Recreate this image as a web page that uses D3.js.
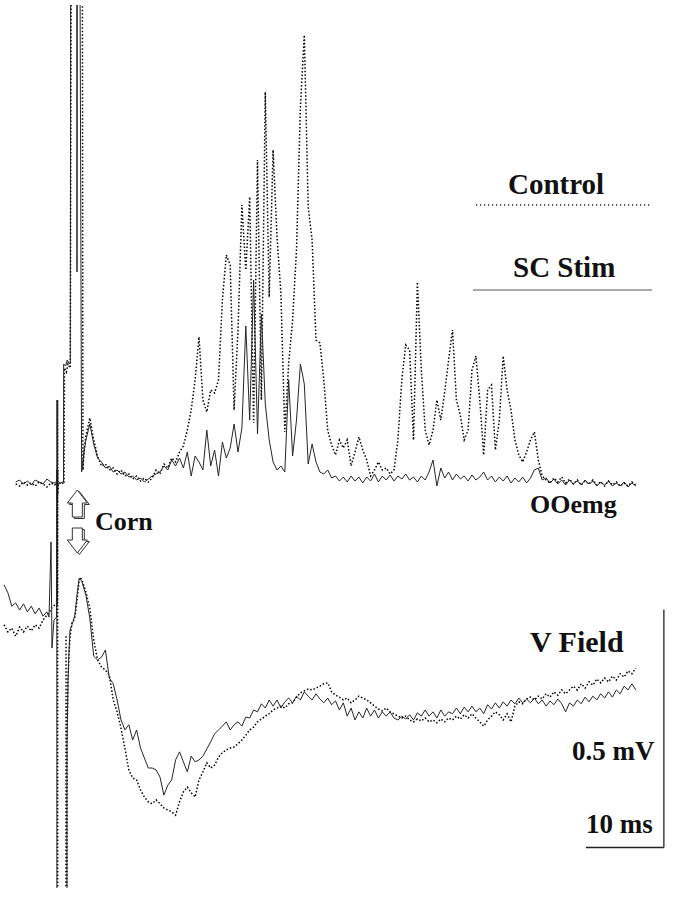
<!DOCTYPE html>
<html>
<head>
<meta charset="utf-8">
<script src="https://cdn.jsdelivr.net/npm/d3@7/dist/d3.min.js"></script>
<style>
body{margin:0;background:#fff;}
svg{display:block;background:#fff;}
.label{font-family:"Liberation Serif","Times New Roman",serif;font-weight:bold;fill:#111;}
</style>
</head>
<body>
<svg id="fig"></svg>
<script>
//////////////////////////////////////////////////////////////
// data: all traces sampled every 0.5 ms
var dt = 0.5;
var fieldStart = 0;     // V field sweep starts at 0 ms
var emgStart = 1.5;     // OOemg sweep starts at 1.5 ms
var seriesNames = ["Control","SC Stim"];
var traceNames = ["OOemg","V Field"];
var stimName = "Corn";
var cornTime = 9.4;     // corneal stimulus (ms)
var scaleBarTime = 10;  // ms
var scaleBarVolt = 500; // uV
var scaleBarLabels = ["0.5 mV","10 ms"];

// OOemg, rectified (a.u.), SC Stim (solid)
var emgStim = [
 1,2,0,1.5,-0.5,2,1,0,2.5,1,0.5,
 null,null,null,null,null,null,null,
 22,30,20,13,11,8,9,6,7,5,
 6,3.5,4,2,3,1,2.5,4,5,6,
 9,7,12,9,13,8,16,4,14,11,
 7,27,9,17,4,21,13,18,30,16,
 28,79,32,102,25,85,40,22,11,7,
 9,6,52,14,32,60,50,10,20,11,
 6,5,7,3,4,1.5,3.5,1,4,1.5,
 3.5,0.5,3.5,1.5,5,1,4,2,4.5,1.5,
 4,2.5,5,2,3.5,1,4,2,6,12,
 -1,8,3,6,2,5,2.5,4,1.5,4.5,
 2,3.5,6,2,4,1,3.5,1.5,4,0.5,
 3,1,3.5,0.5,3,7,8,2,3,0.5,
 2.5,0,2,-0.5,2,0,1.5,-0.5,2,0,
 1.5,-1,1,-0.5,1.5,-1,0.5,-1,1,-1.5,
 0.5,-1
];
// OOemg, Control (dotted)
var emgControl = [
 0,-1,1,-0.5,0.5,-1,1,0,-1.5,0.5,-0.5,
 null,null,null,null,null,null,null,
 24,33,22,14,9,10,7,8,5,7,
 4,5,2.5,4,1.5,3,1,3,7,5,
 10,8,13,11,16,19,27,37,52,73.5,
 42,36,47,45.5,52,92,114.5,109.5,37,77,
 139.5,107,143.5,30.5,162,42,196,93.5,167,123.5,
 95.5,26,60.5,82,117,188.5,224.5,138.5,122,72,
 70.5,52,27,19.5,14.5,22,18,22,9,16,
 23.5,17,12,4,7,11,7,8,5,7,
 22,52,69.5,67,22,101,57,27,19.5,27,
 42,32,46,62,77,42,34.5,22,27,57,
 64,42,14.5,47,49.5,17,32,64,47,37,
 22,14.5,11,16,22,26,12,4,2,0.5,
 3,1,3.5,0.5,2.5,0,2,-0.5,1.5,0,
 2,-0.5,1,-1,1.5,-0.5,1,-1,0.5,-1,
 1,-0.5
];
// stimulus artifacts [ms, value]
var emgStimArtifact = [[6.6,1],[6.79,1],[6.8,42],[6.82,-8],[6.85,1],[7.1,0],[7.5,1],[7.63,1],
 [7.65,60],[7.9,59],[8.1,62],[8.4,60],[8.5,61],[8.55,250],[9.33,250],[9.36,106],[9.4,250],
 [9.75,250],[9.95,6],[10.2,14]];
var emgControlArtifact = [[6.6,0],[6.84,0],[6.87,42],[6.9,-5],[6.95,0],[7.3,1],[7.7,0],
 [7.75,58],[8.0,56],[8.2,60],[8.5,58],[8.6,250],[10.05,250],[10.12,7],[10.3,18]];

// V Field (uV), SC Stim (solid)
var fieldStim = [
 32,15,-13,-6,-21,-8,-25,-13,-29,-17,-34,-25,
 null,null,null,null,null,null,null,null,
 38,10,-38,-118,-126,-120,-105,-164,-176,-210,
 -252,-273,-262,-294,-273,-311,-332,-353,-353,-357,
 -372,-410,-389,-378,-336,-319,-340,-361,-328,-340,
 -336,-328,-313,-298,-281,-273,-265,-256,-273,-262,
 -256,-265,-246,-248,-231,-235,-218,-227,-210,-223,
 -210,-227,-214,-206,-216,-202,-210,-193,-202,-210,
 -197,-208,-216,-206,-220,-212,-231,-216,-244,-227,
 -252,-235,-248,-227,-244,-231,-248,-235,-244,-235,
 -248,-252,-244,-250,-241,-252,-237,-244,-231,-244,
 -235,-248,-231,-244,-235,-239,-227,-239,-225,-235,
 -223,-235,-227,-239,-220,-229,-216,-227,-214,-223,
 -210,-218,-206,-216,-208,-216,-206,-218,-210,-223,
 -212,-220,-208,-218,-235,-216,-223,-210,-218,-204,
 -214,-202,-210,-197,-206,-193,-204,-189,-197,-181,
 -189,-176,-189
];
// V Field, Control (dotted)
var fieldControl = [
 -52,-67,-59,-76,-57,-67,-55,-65,-52,-59,-42,-32,
 null,null,null,null,null,null,null,null,
 42,17,-17,-84,-126,-141,-147,-158,-210,-235,
 -269,-311,-357,-374,-378,-399,-414,-424,-428,-420,
 -428,-437,-441,-445,-452,-424,-403,-393,-405,-414,
 -378,-361,-342,-353,-347,-330,-321,-315,-311,-309,
 -302,-294,-284,-273,-267,-256,-250,-244,-239,-231,
 -227,-223,-227,-218,-216,-204,-195,-191,-187,-189,
 -185,-181,-176,-174,-193,-200,-204,-210,-206,-216,
 -210,-202,-206,-210,-216,-223,-229,-233,-227,-235,
 -239,-244,-248,-244,-252,-256,-250,-254,-248,-256,
 -252,-258,-250,-256,-248,-252,-244,-250,-241,-248,
 -239,-248,-256,-265,-252,-244,-235,-241,-252,-239,
 -256,-223,-214,-218,-208,-204,-210,-202,-208,-197,
 -204,-193,-200,-189,-197,-189,-181,-189,-176,-185,
 -172,-179,-166,-174,-164,-172,-160,-168,-155,-162,
 -149,-155,-143
];
var fieldStimArtifact = [[5.77,-36],[6.03,122],[6.15,-101],[6.41,-42],[6.73,-36],[6.77,273],
 [6.8,-3000],[8.0,-3000],[8.08,-300],[8.21,-170],[8.33,-110],[8.46,-63],[8.72,-52],[8.85,-46],
 [9.1,-30],[9.36,10],[9.62,44],[9.74,46]];
var fieldControlArtifact = [[5.77,-27],[6.15,-15],[6.54,-10],[6.84,-8],[6.87,273],[6.91,-3000],
 [7.92,-3000],[7.95,-74],[7.99,-3000],[8.05,-3000],[8.08,-290],[8.21,-162],[8.33,-115],
 [8.46,-78],[8.72,-48],[8.85,-46],[9.1,-36],[9.36,0],[9.62,40],[9.74,48]];
//////////////////////////////////////////////////////////////

//merge the regular samples with the artifact points
var buildTrace = function(start,values,artifact)
{
    var pts = [];
    values.forEach(function(v,k){
        if(v!==null) pts.push({t:start+k*dt, v:v});
    });
    artifact.forEach(function(p){
        pts.push({t:p[0], v:p[1]});
    });
    pts.sort(function(a,b){return a.t-b.t;});
    return pts;
}

var initFigure = function(target)
{
    var screen = {width:675, height:899};

    var svg = d3.select(target)
        .attr("width",screen.width)
        .attr("height",screen.height)

    //10 ms = 78 px, 0.5 mV = 238 px
    var xScale = d3.scaleLinear()
        .domain([0,81])
        .range([4,635.8])
    var emgScale = d3.scaleLinear()
        .domain([0,240])
        .range([484,4])
    var fieldScale = d3.scaleLinear()
        .domain([0,-500])
        .range([600,838])

    svg.append("defs")
        .append("clipPath")
        .attr("id","clip")
        .append("rect")
        .attr("x",0)
        .attr("y",5)
        .attr("width",screen.width)
        .attr("height",883)

    var traces = [
        {pts:buildTrace(emgStart,emgControl,emgControlArtifact), y:emgScale, dotted:true},
        {pts:buildTrace(emgStart,emgStim,emgStimArtifact), y:emgScale, dotted:false},
        {pts:buildTrace(fieldStart,fieldControl,fieldControlArtifact), y:fieldScale, dotted:true},
        {pts:buildTrace(fieldStart,fieldStim,fieldStimArtifact), y:fieldScale, dotted:false}
    ];

    var g = svg.append("g")
        .attr("clip-path","url(#clip)")

    traces.forEach(function(tr)
    {
        var line = d3.line()
            .x(function(p){return xScale(p.t);})
            .y(function(p){return tr.y(p.v);})
        g.append("path")
            .datum(tr.pts)
            .attr("d",line)
            .attr("fill","none")
            .attr("stroke",tr.dotted ? "#000" : "#262626")
            .attr("stroke-width",tr.dotted ? 1.5 : 1)
            .attr("stroke-dasharray",tr.dotted ? "1.5,2" : null)
    })

    //legend
    var legend = svg.append("g")
    legend.append("text")
        .classed("label",true)
        .attr("x",508).attr("y",194)
        .style("font-size","29px")
        .text(seriesNames[0])
    legend.append("line")
        .attr("x1",476).attr("x2",652)
        .attr("y1",205).attr("y2",205)
        .attr("stroke","#222")
        .attr("stroke-width",1.3)
        .attr("stroke-dasharray","1.2,2.8")
    legend.append("text")
        .classed("label",true)
        .attr("x",513).attr("y",277)
        .style("font-size","29px")
        .text(seriesNames[1])
    legend.append("line")
        .attr("x1",473).attr("x2",652)
        .attr("y1",290).attr("y2",290)
        .attr("stroke","#555")
        .attr("stroke-width",1.2)

    //trace names
    svg.append("text")
        .classed("label",true)
        .attr("x",530).attr("y",513)
        .style("font-size","26px")
        .text(traceNames[0])
    svg.append("text")
        .classed("label",true)
        .attr("x",530).attr("y",652)
        .style("font-size","30px")
        .text(traceNames[1])

    //corneal stimulus arrows
    var cx = xScale(cornTime);
    var upArrow = [[0,490],[10,503],[5,503],[5,517],[-5,517],[-5,503],[-10,503]];
    var downArrow = [[-5,528],[5,528],[5,540],[10,540],[0,553],[-10,540],[-5,540]];
    [upArrow,downArrow].forEach(function(shape)
    {
        var d = "M" + shape.map(function(p){return (cx+p[0])+","+p[1];}).join("L") + "Z";
        svg.append("path")
            .attr("d",d)
            .attr("transform","translate(2,1.5)")
            .attr("fill","#fff")
            .attr("stroke","#333")
            .attr("stroke-width",1)
        svg.append("path")
            .attr("d",d)
            .attr("fill","#fff")
            .attr("stroke","#333")
            .attr("stroke-width",1)
    })
    svg.append("text")
        .classed("label",true)
        .attr("x",95).attr("y",530)
        .style("font-size","26px")
        .text(stimName)

    //scale bars
    var barT = 84.6, barV = -520;
    var bars = svg.append("g")
        .attr("stroke","#222")
        .attr("stroke-width",1.3)
    bars.append("line")
        .attr("x1",xScale(barT)).attr("x2",xScale(barT))
        .attr("y1",fieldScale(barV)).attr("y2",fieldScale(barV+scaleBarVolt))
    bars.append("line")
        .attr("x1",xScale(barT-scaleBarTime)).attr("x2",xScale(barT))
        .attr("y1",fieldScale(barV)).attr("y2",fieldScale(barV))

    svg.append("text")
        .classed("label",true)
        .attr("x",572).attr("y",760)
        .style("font-size","27px")
        .text(scaleBarLabels[0])
    svg.append("text")
        .classed("label",true)
        .attr("x",586).attr("y",833)
        .style("font-size","27px")
        .text(scaleBarLabels[1])
}

initFigure("#fig");
</script>
</body>
</html>
